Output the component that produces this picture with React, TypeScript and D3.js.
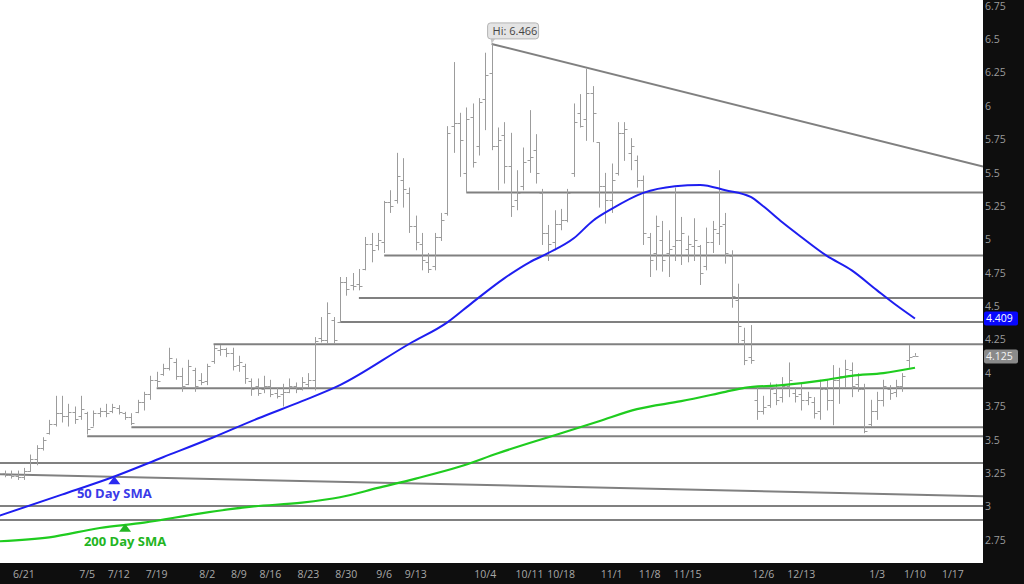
import { useEffect, useRef } from 'react';
import * as d3 from 'd3';

// daily bars, oldest first
const highs = [
  3.27, 3.27, 3.27, 3.29, 3.39, 3.46, 3.52, 3.65, 3.83, 3.83,
  3.77, 3.75, 3.83, 3.71, 3.72, 3.74, 3.77, 3.77, 3.76, 3.71,
  3.7, 3.8, 3.86, 3.98, 4.01, 4.07, 4.19, 4.11, 4.04, 4.1,
  4.04, 4.0, 4.07, 4.21, 4.21, 4.19, 4.19, 4.13, 4.07, 3.96,
  3.96, 3.98, 3.95, 3.89, 3.92, 3.96, 3.93, 3.97, 4.0, 4.27,
  4.42, 4.53, 4.42, 4.72, 4.72, 4.75, 4.78, 5.02, 5.05, 5.05,
  5.29, 5.37, 5.65, 5.61, 5.39, 5.18, 5.05, 4.9, 5.05, 5.2,
  5.85, 6.33, 5.95, 5.99, 6.02, 6.06, 6.4, 6.466, 5.84, 5.88,
  5.8, 5.52, 5.69, 5.97, 5.79, 5.38, 5.11, 5.22, 5.23, 5.38,
  6.02, 6.09, 6.28, 6.15, 5.73, 5.5, 5.57, 5.88, 5.88, 5.76,
  5.63, 5.48, 5.05, 5.18, 5.14, 5.07, 5.39, 5.17, 5.03, 5.16,
  4.96, 5.09, 5.14, 5.52, 5.2, 4.92, 4.67, 4.34, 4.36, 3.89,
  3.83, 3.93, 3.92, 3.97, 4.08, 3.89, 3.92, 3.86, 3.82, 3.95,
  3.95, 4.06, 4.04, 4.1, 4.08, 4.0, 3.92, 3.8, 3.86, 3.95,
  3.91, 3.95, 4.0, 4.21, 4.15,
];
const lows = [
  3.22, 3.21, 3.2, 3.2, 3.26, 3.31, 3.42, 3.54, 3.6, 3.63,
  3.6, 3.62, 3.65, 3.54, 3.6, 3.67, 3.67, 3.7, 3.69, 3.65,
  3.61, 3.7, 3.72, 3.8, 3.89, 3.98, 4.02, 3.95, 3.86, 3.91,
  3.86, 3.91, 3.91, 4.07, 4.13, 4.12, 4.02, 4.01, 3.92, 3.83,
  3.83, 3.85, 3.82, 3.81, 3.75, 3.85, 3.85, 3.87, 3.89, 3.87,
  4.23, 4.22, 4.22, 4.38, 4.58, 4.62, 4.62, 4.77, 4.83, 4.92,
  4.9, 5.2, 5.27, 5.24, 5.05, 4.92, 4.77, 4.75, 4.77, 4.99,
  5.18, 5.65, 5.47, 5.35, 5.54, 5.63, 5.82, 5.67, 5.37, 5.42,
  5.17, 5.22, 5.37, 5.5, 5.42, 4.96, 4.84, 4.92, 5.07, 5.13,
  5.47, 5.84, 5.74, 5.73, 5.24, 5.12, 5.2, 5.48, 5.59, 5.52,
  5.39, 4.96, 4.72, 4.77, 4.76, 4.72, 4.84, 4.81, 4.83, 4.84,
  4.66, 4.77, 4.9, 4.96, 4.82, 4.49, 4.22, 4.06, 4.07, 3.65,
  3.69, 3.74, 3.76, 3.78, 3.82, 3.78, 3.72, 3.76, 3.66, 3.65,
  3.72, 3.61, 3.77, 3.89, 3.82, 3.86, 3.55, 3.6, 3.65, 3.75,
  3.8, 3.82, 3.86, 4.04, 4.13,
];
const opens = [
  3.25, 3.24, 3.23, 3.22, 3.27, 3.36, 3.44, 3.55, 3.62, 3.7,
  3.68, 3.71, 3.68, 3.7, 3.6, 3.7, 3.72, 3.72, 3.74, 3.7,
  3.67, 3.71, 3.78, 3.84, 3.95, 3.99, 4.04, 4.08, 3.98, 3.92,
  4.02, 3.95, 3.94, 4.09, 4.17, 4.18, 4.15, 4.06, 4.05, 3.94,
  3.9, 3.88, 3.9, 3.85, 3.84, 3.86, 3.9, 3.88, 3.92, 3.95,
  4.26, 4.25, 4.4, 4.38, 4.68, 4.66, 4.67, 4.78, 4.97, 4.96,
  4.98, 5.28, 5.3, 5.45, 5.35, 5.1, 4.97, 4.83, 4.8, 5.02,
  5.2, 5.85, 5.87, 5.5, 5.92, 5.7, 6.05, 6.25, 5.7, 5.78,
  5.55, 5.3, 5.4, 5.6, 5.67, 5.35, 5.05, 4.98, 5.12, 5.15,
  5.5, 5.95, 5.9, 6.1, 5.73, 5.4, 5.3, 5.5, 5.8, 5.65,
  5.6, 5.45, 5.02, 4.9, 5.0, 4.9, 4.95, 5.0, 4.93, 4.95,
  4.95, 4.8, 4.98, 5.05, 5.12, 4.88, 4.55, 4.25, 4.12, 3.8,
  3.72, 3.76, 3.85, 3.82, 3.9, 3.85, 3.84, 3.8, 3.78, 3.72,
  3.88, 3.8, 3.95, 3.98, 4.02, 3.92, 3.88, 3.62, 3.72, 3.8,
  3.88, 3.86, 3.9, 4.1, 4.13,
];
const closes = [
  3.24, 3.23, 3.22, 3.27, 3.36, 3.44, 3.5, 3.62, 3.7, 3.68,
  3.71, 3.66, 3.73, 3.58, 3.7, 3.72, 3.7, 3.75, 3.71, 3.67,
  3.63, 3.78, 3.84, 3.95, 3.94, 4.04, 4.11, 3.98, 3.9, 4.05,
  3.9, 3.93, 4.05, 4.19, 4.18, 4.15, 4.05, 4.08, 3.96, 3.88,
  3.85, 3.9, 3.84, 3.83, 3.86, 3.9, 3.88, 3.93, 3.95, 4.24,
  4.25, 4.45, 4.25, 4.68, 4.63, 4.65, 4.65, 4.97, 4.92, 5.0,
  5.28, 5.25, 5.48, 5.38, 5.1, 4.98, 4.85, 4.78, 5.02, 5.15,
  5.8, 5.87, 5.75, 5.9, 5.58, 6.03, 6.23, 5.7, 5.75, 5.55,
  5.25, 5.35, 5.58, 5.62, 5.5, 5.05, 4.97, 5.12, 5.15, 5.35,
  5.88, 5.85, 6.1, 5.95, 5.4, 5.3, 5.45, 5.8, 5.83, 5.7,
  5.45, 5.05, 4.85, 5.1, 4.85, 4.93, 5.0, 5.05, 4.97, 5.0,
  4.75, 4.98, 5.08, 5.1, 4.9, 4.58, 4.35, 4.1, 4.1, 3.72,
  3.75, 3.88, 3.8, 3.9, 3.95, 3.83, 3.8, 3.82, 3.7, 3.88,
  3.8, 3.95, 3.98, 4.03, 3.9, 3.88, 3.57, 3.72, 3.8, 3.9,
  3.85, 3.9, 3.98, 4.12, 4.125,
];

// moving averages at these bar numbers
const sma50Bars = [-1, 9, 17, 25, 33, 40, 47, 53, 64, 70, 74, 79, 83, 86, 90, 93, 96, 101, 106, 110, 114, 118, 120, 123, 126, 130, 134, 138, 141, 144];
const sma50Values = [2.93, 3.09, 3.22, 3.37, 3.52, 3.66, 3.79, 3.91, 4.22, 4.38, 4.53, 4.71, 4.83, 4.9, 5.01, 5.14, 5.23, 5.35, 5.4, 5.41, 5.37, 5.32, 5.25, 5.13, 5.02, 4.88, 4.77, 4.62, 4.51, 4.409];
const sma200Bars = [-1, 7, 15, 22, 31, 39, 47, 53, 59, 65, 72, 78, 88, 94, 100, 107, 114, 117, 123, 130, 134, 139, 144];
const sma200Values = [2.74, 2.77, 2.84, 2.88, 2.95, 3.0, 3.03, 3.07, 3.14, 3.21, 3.3, 3.4, 3.55, 3.64, 3.73, 3.79, 3.86, 3.89, 3.91, 3.95, 3.98, 4.0, 4.04];

// horizontal support / resistance, with the bar each one starts from (-1 = left edge)
const levelPrices = [5.353, 4.881, 4.562, 4.383, 4.216, 3.887, 3.595, 3.528, 3.326, 3.004, 2.9];
const levelStartBars = [73, 60, 56, 53, 33, 24, 20, 13, -1, -1, -1];

// trend lines as two [bar, price] anchors
const highTrend: [number, number][] = [[77, 6.466], [155, 5.544]];
const lowTrend: [number, number][] = [[0, 3.242], [155, 3.078]];

const dateLabels = ['6/21', '7/5', '7/12', '7/19', '8/2', '8/9', '8/16', '8/23', '8/30', '9/6', '9/13', '10/4', '10/11', '10/18', '11/1', '11/8', '11/15', '12/6', '12/13', '1/3', '1/10', '1/17'];
const dateBars = [3, 13, 18, 24, 32, 37, 42, 48, 54, 60, 65, 76, 83, 88, 96, 102, 108, 120, 126, 138, 144, 150];

const priceTicks = [6.75, 6.5, 6.25, 6, 5.75, 5.5, 5.25, 5, 4.75, 4.5, 4.25, 4, 3.75, 3.5, 3.25, 3, 2.75];

const W = 1024;
const H = 584;
const PLOT_R = 983;
const PLOT_B = 563;
const FONT = '"Open Sans", "Noto Sans", sans-serif';

export default function App() {
  const svgRef = useRef<SVGSVGElement>(null);

  useEffect(() => {
    if (!svgRef.current) return;
    const svg = d3.select(svgRef.current);
    svg.selectAll('*').remove();

    const x = d3.scaleLinear().domain([0, 144]).range([5, 915]);
    const y = d3.scaleLinear().domain([2.75, 6.75]).range([540, 6]);
    const px = (i: number) => Math.round(x(i)) + 0.5;

    svg.append('rect').attr('width', W).attr('height', H).attr('fill', '#fff');
    svg
      .append('defs')
      .append('clipPath')
      .attr('id', 'plot-clip')
      .append('rect')
      .attr('width', PLOT_R)
      .attr('height', PLOT_B);

    const plot = svg.append('g').attr('clip-path', 'url(#plot-clip)');

    // level lines
    plot
      .selectAll('.level')
      .data(levelPrices)
      .join('line')
      .attr('x1', (d, i) => (levelStartBars[i] < 0 ? 0 : x(levelStartBars[i])))
      .attr('x2', PLOT_R)
      .attr('y1', (d) => y(d))
      .attr('y2', (d) => y(d))
      .attr('stroke', '#808080')
      .attr('stroke-width', 2);

    // trend lines, extended to the plot edges
    const extend = (pts: [number, number][], fromLeft: boolean) => {
      const [[i0, p0], [i1, p1]] = pts;
      const slope = (p1 - p0) / (i1 - i0);
      const iStart = fromLeft ? x.invert(0) : i0;
      const iEnd = x.invert(PLOT_R);
      return [
        [x(iStart), y(p0 + slope * (iStart - i0))],
        [x(iEnd), y(p0 + slope * (iEnd - i0))],
      ];
    };
    [extend(highTrend, false), extend(lowTrend, true)].forEach((seg) => {
      plot
        .append('line')
        .attr('x1', seg[0][0])
        .attr('y1', seg[0][1])
        .attr('x2', seg[1][0])
        .attr('y2', seg[1][1])
        .attr('stroke', '#808080')
        .attr('stroke-width', 2);
    });

    // OHLC bars
    const idx = d3.range(highs.length);
    const bars = plot.append('g').attr('stroke', '#9c9c9c').attr('stroke-width', 1);
    bars
      .selectAll('.hl')
      .data(idx)
      .join('line')
      .attr('x1', (i) => px(i))
      .attr('x2', (i) => px(i))
      .attr('y1', (i) => y(highs[i]))
      .attr('y2', (i) => y(lows[i]));
    bars
      .selectAll('.op')
      .data(idx)
      .join('line')
      .attr('x1', (i) => px(i) - 3)
      .attr('x2', (i) => px(i))
      .attr('y1', (i) => Math.round(y(opens[i])) + 0.5)
      .attr('y2', (i) => Math.round(y(opens[i])) + 0.5);
    bars
      .selectAll('.cl')
      .data(idx)
      .join('line')
      .attr('x1', (i) => px(i))
      .attr('x2', (i) => px(i) + 3)
      .attr('y1', (i) => Math.round(y(closes[i])) + 0.5)
      .attr('y2', (i) => Math.round(y(closes[i])) + 0.5);

    // moving averages
    const line = d3
      .line<number>()
      .curve(d3.curveMonotoneX);
    plot
      .append('path')
      .attr('d', line.x((d, k) => x(sma200Bars[k])).y((d) => y(d))(sma200Values))
      .attr('fill', 'none')
      .attr('stroke', '#1fcc1f')
      .attr('stroke-width', 2.2);
    plot
      .append('path')
      .attr('d', line.x((d, k) => x(sma50Bars[k])).y((d) => y(d))(sma50Values))
      .attr('fill', 'none')
      .attr('stroke', '#1e1ef0')
      .attr('stroke-width', 2);

    // SMA annotations
    const notes = [
      { text: '50 Day SMA', bar: 17.3, price: 3.22, color: '#3a3ae8', tri: '#2a2af0' },
      { text: '200 Day SMA', bar: 19.0, price: 2.865, color: '#22b522', tri: '#22b522' },
    ];
    notes.forEach((n) => {
      const cx = x(n.bar);
      const cy = y(n.price);
      plot
        .append('path')
        .attr('d', `M${cx},${cy - 1}L${cx + 6},${cy + 7}L${cx - 6},${cy + 7}Z`)
        .attr('fill', n.tri);
      plot
        .append('text')
        .attr('x', cx)
        .attr('y', cy + 21)
        .attr('text-anchor', 'middle')
        .attr('font-family', FONT)
        .attr('font-weight', 'bold')
        .attr('font-size', 13)
        .attr('fill', n.color)
        .text(n.text);
    });

    // high callout
    const hx = x(77);
    const hy = y(6.466);
    const callout = svg.append('g');
    callout
      .append('path')
      .attr('d', `M${hx},${hy}L${hx - 1},${hy - 6}L${hx + 4},${hy - 6}Z`)
      .attr('fill', '#c8c8c8');
    callout
      .append('rect')
      .attr('x', hx - 4)
      .attr('y', hy - 21)
      .attr('width', 51)
      .attr('height', 16)
      .attr('rx', 3)
      .attr('fill', '#e4e4e4')
      .attr('stroke', '#b4b4b4');
    callout
      .append('text')
      .attr('x', hx + 1)
      .attr('y', hy - 9)
      .attr('font-family', FONT)
      .attr('font-size', 11)
      .attr('fill', '#444')
      .text('Hi: 6.466');

    // axes bands
    svg.append('rect').attr('x', PLOT_R).attr('y', 0).attr('width', W - PLOT_R).attr('height', H).attr('fill', '#0e0e0e');
    svg.append('rect').attr('x', 0).attr('y', PLOT_B).attr('width', W).attr('height', H - PLOT_B).attr('fill', '#0e0e0e');

    svg
      .append('g')
      .selectAll('text')
      .data(priceTicks)
      .join('text')
      .attr('x', PLOT_R + 2)
      .attr('y', (d) => y(d))
      .attr('dy', '0.35em')
      .attr('font-family', FONT)
      .attr('font-size', 10.5)
      .attr('fill', '#9a9a9a')
      .text((d) => String(d));

    // last-value tags
    const tags = [
      { value: sma50Values[sma50Values.length - 1], fill: '#0808ff', color: '#fff' },
      { value: closes[closes.length - 1], fill: '#8a8a8a', color: '#f2f2f2' },
    ];
    tags.forEach((t) => {
      const ty = y(t.value);
      svg
        .append('rect')
        .attr('x', PLOT_R + 1)
        .attr('y', ty - 7)
        .attr('width', 34)
        .attr('height', 14)
        .attr('rx', 2)
        .attr('fill', t.fill);
      svg
        .append('text')
        .attr('x', PLOT_R + 3)
        .attr('y', ty)
        .attr('dy', '0.35em')
        .attr('font-family', FONT)
        .attr('font-size', 10.5)
        .attr('fill', t.color)
        .text(String(t.value));
    });

    svg
      .append('g')
      .selectAll('text')
      .data(dateLabels)
      .join('text')
      .attr('x', (d, i) => x(dateBars[i]))
      .attr('y', 578)
      .attr('text-anchor', 'middle')
      .attr('font-family', FONT)
      .attr('font-size', 10.5)
      .attr('fill', '#a8a8a8')
      .text((d) => d);
  }, []);

  return (
    <svg
      ref={svgRef}
      width={W}
      height={H}
      style={{ position: 'fixed', left: 0, top: 0, display: 'block' }}
    />
  );
}
